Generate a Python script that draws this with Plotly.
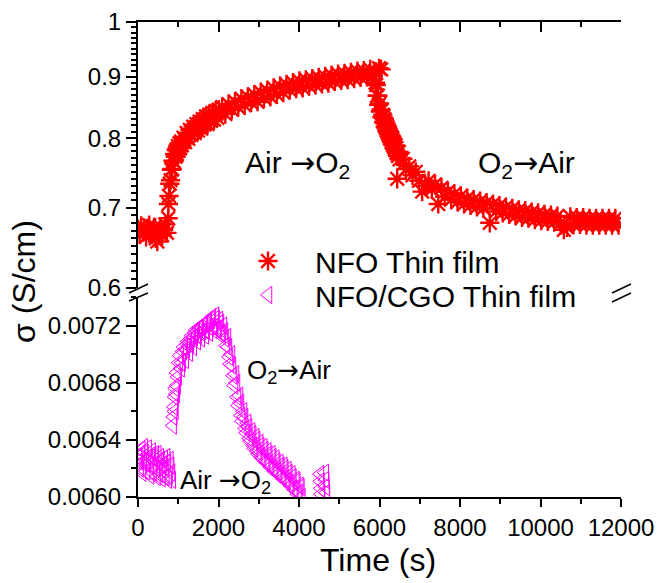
import math
import plotly.graph_objects as go

# ---------------- data: NFO thin film (top panel) ----------------
nfo_t = [0, 40, 80, 120, 160, 200, 240, 280, 320, 360, 400, 440, 480, 520, 560, 600, 640, 680, 720,
         750, 755,
         770, 790, 810, 830, 850, 870, 890, 910, 930, 950, 970, 990, 1010, 1030, 1050, 1070, 1090,
         1130, 1170, 1210, 1250, 1290, 1330, 1370, 1410, 1450, 1490, 1530, 1570, 1610, 1650, 1690,
         1730, 1770, 1810, 1850, 1890, 1930, 1970, 2010,
         2090, 2170, 2250, 2330, 2410, 2490, 2570, 2650, 2730, 2810, 2890, 2970, 3050, 3130, 3210,
         3290, 3370, 3450, 3530, 3610, 3690, 3770, 3850, 3930, 4010, 4090, 4170, 4250, 4330, 4410,
         4490, 4570, 4650, 4730, 4810, 4890, 4970, 5050, 5130, 5210, 5290, 5370, 5450, 5530, 5610,
         5690, 5770, 5850,
         5990, 6040,
         5880, 5900, 5920, 5940, 5960, 5980, 6000, 6020, 6040, 6060, 6080, 6100, 6120, 6140, 6160,
         6180, 6200, 6220, 6240, 6260, 6280, 6300, 6320, 6340, 6360, 6380, 6400, 6420, 6440, 6460,
         6480, 6500,
         6580, 6660, 6740, 6820, 6900, 6980, 7060, 7140, 7220, 7300, 7380, 7460, 7540, 7620, 7700,
         7780, 7860, 7940, 8020, 8100, 8180, 8260, 8340, 8420, 8500, 8580, 8660, 8740, 8820, 8900,
         8980, 9060, 9140, 9220, 9300, 9380, 9460, 9540, 9620, 9700, 9780, 9860, 9940, 10020,
         10100, 10180, 10260, 10340, 10420, 10500, 10580, 10660, 10740, 10820, 10900, 10980,
         11060, 11140, 11220, 11300, 11380, 11460, 11540, 11620, 11700, 11780, 11860, 11940]
nfo_sigma = [0.672, 0.665, 0.676, 0.668, 0.673, 0.662, 0.671, 0.677, 0.666, 0.670, 0.674, 0.660,
             0.656, 0.669, 0.675, 0.664, 0.671, 0.678, 0.667,
             0.686, 0.705,
             0.716, 0.733, 0.738, 0.753, 0.754, 0.766, 0.765, 0.776, 0.772, 0.782, 0.776, 0.788,
             0.781, 0.792, 0.785, 0.795, 0.789,
             0.801, 0.794, 0.808, 0.799, 0.813, 0.805, 0.818, 0.808, 0.822, 0.812, 0.826, 0.815,
             0.830, 0.821, 0.834, 0.822, 0.837, 0.827, 0.840, 0.829, 0.843, 0.832, 0.845,
             0.849, 0.838, 0.854, 0.845, 0.858, 0.849, 0.863, 0.852, 0.866, 0.857, 0.870, 0.858,
             0.874, 0.864, 0.877, 0.866, 0.881, 0.870, 0.884, 0.873, 0.887, 0.878, 0.890, 0.880,
             0.893, 0.881, 0.895, 0.884, 0.897, 0.886, 0.899, 0.888, 0.901, 0.889, 0.903, 0.892,
             0.905, 0.894, 0.906, 0.895, 0.908, 0.897, 0.910, 0.899, 0.911, 0.900, 0.913, 0.902,
             0.915, 0.913,
             0.908, 0.890, 0.886, 0.868, 0.868, 0.853, 0.855, 0.842, 0.845, 0.833, 0.837, 0.825,
             0.830, 0.818, 0.823, 0.812, 0.817, 0.806, 0.811, 0.800, 0.805, 0.794, 0.800, 0.789,
             0.794, 0.783, 0.789, 0.778, 0.740, 0.773, 0.779, 0.768,
             0.769, 0.754, 0.758, 0.745, 0.750, 0.737, 0.722, 0.730, 0.737, 0.725, 0.732, 0.705,
             0.727, 0.715, 0.722, 0.711, 0.719, 0.708, 0.716, 0.705, 0.713, 0.703, 0.711, 0.701,
             0.709, 0.699, 0.707, 0.680, 0.705, 0.695, 0.703, 0.693, 0.701, 0.691, 0.699, 0.689,
             0.697, 0.687, 0.696, 0.686, 0.694, 0.684, 0.693, 0.683, 0.691, 0.682, 0.690, 0.681,
             0.689, 0.680, 0.671, 0.674, 0.688, 0.678, 0.687, 0.678, 0.687, 0.677, 0.686, 0.677,
             0.686, 0.677, 0.686, 0.677, 0.686, 0.677, 0.686, 0.677]

# ---------------- data: NFO/CGO thin film (bottom panel) ----------------
cgo_t = [0, 40, 80, 120, 160, 200, 240, 280, 320, 360, 400, 440, 480, 520, 560, 600, 640, 680,
         720, 760, 800, 840,
         20, 60, 100, 140, 180, 220, 260, 300, 340, 380, 420, 460, 500, 540, 580, 620, 660, 700,
         740, 780, 820,
         860, 910, 960, 1010, 1060, 1110, 1160, 1210, 1260, 1310, 1360, 1410, 1460, 1510, 1560,
         1610, 1660, 1710, 1760, 1810, 1860, 1910, 1960, 2010, 2060, 2110, 2160, 2210, 2260, 2310,
         2360, 2410, 2460, 2510, 2560, 2610, 2660, 2710, 2760, 2810, 2860, 2910, 2960, 3010, 3060,
         3110, 3160, 3210, 3260, 3310, 3360, 3410, 3460, 3510, 3560, 3610, 3660, 3710, 3760, 3810,
         3860, 3910, 3960, 4010, 4060,
         875, 890, 905, 925, 940, 955, 985, 1035, 1085, 1135, 1185, 1235, 1285, 1335, 1385, 1435,
         1485, 1535, 1585, 1635, 1685, 1735, 1785, 1835, 1885, 1935, 1985, 2035, 2085, 2135, 2185,
         2235, 2285, 2335, 2385, 2435, 2485, 2535, 2585, 2635, 2685, 2735, 2785, 2835, 2885, 2935,
         2985, 3035, 3085, 3135, 3185, 3235, 3285, 3335, 3385, 3435, 3485, 3535, 3585, 3635, 3685,
         3735, 3785, 3835, 3885, 3935, 3985, 4035,
         4520, 4530, 4540, 4550, 4640, 4650, 4660, 4670]
cgo_sigma = [0.00628, 0.00620, 0.00633, 0.00624, 0.00631, 0.00618, 0.00634, 0.00622, 0.00629,
             0.00617, 0.00627, 0.00620, 0.00630, 0.00616, 0.00626, 0.00619, 0.00627, 0.00614,
             0.00624, 0.00615, 0.00622, 0.00612,
             0.00625, 0.00630, 0.00617, 0.00635, 0.00626, 0.00623, 0.00628, 0.00615, 0.00632,
             0.00621, 0.00630, 0.00614, 0.00624, 0.00628, 0.00613, 0.00623, 0.00621, 0.00628,
             0.00612, 0.00626, 0.00617,
             0.00650, 0.00670, 0.00678, 0.00694, 0.00690, 0.00702, 0.00696, 0.00707, 0.00701,
             0.00711, 0.00705, 0.00715, 0.00709, 0.00718, 0.00711, 0.00720, 0.00713, 0.00722,
             0.00715, 0.00724, 0.00717, 0.00727, 0.00717, 0.00724, 0.00715, 0.00720, 0.00711,
             0.00712, 0.00698, 0.00700, 0.00685, 0.00686, 0.00670, 0.00671, 0.00657, 0.00660,
             0.00648, 0.00652, 0.00641, 0.00646, 0.00636, 0.00642, 0.00632, 0.00638, 0.00628,
             0.00635, 0.00625, 0.00632, 0.00623, 0.00630, 0.00620, 0.00627, 0.00618, 0.00624,
             0.00615, 0.00622, 0.00613, 0.00619, 0.00610, 0.00616, 0.00606, 0.00612, 0.00602,
             0.00608, 0.00600,
             0.00656, 0.00663, 0.00660, 0.00676, 0.00672, 0.00687, 0.00684, 0.00699, 0.00694,
             0.00705, 0.00703, 0.00709, 0.00707, 0.00713, 0.00712, 0.00717, 0.00713, 0.00719,
             0.00716, 0.00721, 0.00716, 0.00723, 0.00719, 0.00726, 0.00719, 0.00725, 0.00718,
             0.00722, 0.00714, 0.00716, 0.00706, 0.00705, 0.00693, 0.00692, 0.00678, 0.00680,
             0.00664, 0.00666, 0.00653, 0.00656, 0.00645, 0.00649, 0.00639, 0.00644, 0.00634,
             0.00640, 0.00630, 0.00636, 0.00627, 0.00633, 0.00624, 0.00630, 0.00621, 0.00628,
             0.00618, 0.00625, 0.00616, 0.00622, 0.00613, 0.00620, 0.00611, 0.00617, 0.00608,
             0.00614, 0.00605, 0.00611, 0.00603, 0.00607,
             0.00616, 0.00611, 0.00606, 0.00602, 0.00617, 0.00612, 0.00607, 0.00603]

labels = ["NFO Thin film", "NFO/CGO Thin film"]
top_ticks = [0.6, 0.7, 0.8, 0.9, 1.0]
top_ticktext = ["0.6", "0.7", "0.8", "0.9", "1"]
bot_ticks = [0.0060, 0.0064, 0.0068, 0.0072]
x_ticks = [0, 2000, 4000, 6000, 8000, 10000, 12000]
x_ticktext = ["0", "2000", "4000", "6000", "8000", "10000", "12000"]

FONT = "Liberation Sans, Arial, sans-serif"
RED = "#FF0000"
MAG = "#FF00FF"
ARROW = '<span style="font-family:DejaVu Sans">→</span>'

fig = go.Figure()
fig.add_trace(go.Scatter(x=nfo_t, y=nfo_sigma, mode="markers", name=labels[0],
                         xaxis="x2", yaxis="y2", legend="legend",
                         marker=dict(symbol="asterisk-open", size=16, color=RED,
                                     line=dict(color=RED, width=2.4))))
fig.add_trace(go.Scatter(x=cgo_t, y=cgo_sigma, mode="markers", name=labels[1],
                         xaxis="x", yaxis="y", legend="legend2",
                         marker=dict(symbol="triangle-left-open", size=15, color=MAG,
                                     line=dict(color=MAG, width=1))))

top_minor = [round(0.6 + 0.01 * i, 2) for i in range(1, 40) if i % 10 != 0]

axis_common = dict(showgrid=False, zeroline=False, showline=True, linecolor="black",
                   linewidth=2, tickcolor="black", tickwidth=1.5, automargin=False)

def px_to_paper(px, py):
    return (px - 138) / 483.0, (497 - py) / 475.0

leg_common = dict(xanchor="left", yanchor="top", bgcolor="rgba(0,0,0,0)",
                  font=dict(size=30, family=FONT, color="black"), itemwidth=84)
lx, ly1 = px_to_paper(221, 235)
_, ly2 = px_to_paper(221, 269)

fig.update_layout(
    width=660, height=583,
    margin=dict(l=138, r=39, t=22, b=86),
    paper_bgcolor="white", plot_bgcolor="white",
    font=dict(family=FONT, size=24, color="black"),
    xaxis=dict(domain=[0, 1], anchor="y", range=[0, 12000], tickvals=x_ticks,
               ticktext=x_ticktext, ticks="outside", ticklen=8,
               minor=dict(dtick=1000, tick0=0, ticks="outside", ticklen=5, tickwidth=1.5,
                          tickcolor="black"),
               tickfont=dict(size=24), **axis_common),
    xaxis2=dict(domain=[0, 1], anchor="y2", side="top", range=[0, 12000], tickvals=x_ticks,
                ticks="inside", ticklen=10, showticklabels=False,
                minor=dict(dtick=1000, tick0=0, ticks="inside", ticklen=5, tickwidth=1.5,
                           tickcolor="black"),
                **axis_common),
    yaxis=dict(domain=[0, 0.421], anchor="x", range=[0.0060, 0.0074], tickvals=bot_ticks,
               tickformat=".4f", ticks="outside", ticklen=10,
               minor=dict(dtick=0.0002, tick0=0.006, ticks="outside", ticklen=5, tickwidth=1.5,
                          tickcolor="black"),
               tickfont=dict(size=24), **axis_common),
    yaxis3=dict(overlaying="y", anchor="x", side="right", range=[0.0060, 0.0074],
                tickvals=bot_ticks, showticklabels=False, ticks="inside", ticklen=10,
                minor=dict(dtick=0.0002, tick0=0.006, ticks="inside", ticklen=5, tickwidth=1.5,
                           tickcolor="black"),
                **axis_common),
    yaxis2=dict(domain=[0.44, 1], anchor="x2", type="log",
                range=[math.log10(0.6), 0], tickvals=top_ticks, ticktext=top_ticktext,
                ticks="outside", ticklen=10,
                minor=dict(tickvals=top_minor, ticks="outside", ticklen=5, tickwidth=1.5,
                           tickcolor="black"),
                tickfont=dict(size=24), **axis_common),
    yaxis4=dict(overlaying="y2", anchor="x2", side="right", type="log",
                range=[math.log10(0.6), 0], tickvals=top_ticks, showticklabels=False,
                ticks="inside", ticklen=10,
                minor=dict(tickvals=top_minor, ticks="inside", ticklen=5, tickwidth=1.5,
                           tickcolor="black"),
                **axis_common),
    showlegend=True,
    legend=dict(x=lx, y=ly1, **leg_common),
    legend2=dict(x=lx, y=ly2, **leg_common),
)

ann = []
x, y = px_to_paper(378, 560)
ann.append(dict(text="Time (s)", x=x, y=y, font=dict(size=32)))
x, y = px_to_paper(24, 282)
ann.append(dict(text="σ (S/cm)", x=x, y=y, textangle=-90, font=dict(size=32)))
x, y = px_to_paper(297, 164)
ann.append(dict(text="Air " + ARROW + "O<sub>2</sub>", x=x, y=y, font=dict(size=30)))
x, y = px_to_paper(526, 164)
ann.append(dict(text="O<sub>2</sub>" + ARROW + "Air", x=x, y=y, font=dict(size=30)))
x, y = px_to_paper(289, 371)
ann.append(dict(text="O<sub>2</sub>" + ARROW + "Air", x=x, y=y, font=dict(size=26)))
x, y = px_to_paper(225, 481)
ann.append(dict(text="Air " + ARROW + "O<sub>2</sub>", x=x, y=y, font=dict(size=26)))
for a in ann:
    a.update(xref="paper", yref="paper", showarrow=False, xanchor="center", yanchor="middle")
    a["font"].update(family=FONT, color="black")
fig.update_layout(annotations=ann)

shapes = []
for (x0, y0, x1, y1) in [(129, 293, 148, 284), (129, 301, 148, 293),
                         (612, 293, 631, 284), (612, 302, 631, 293)]:
    a0, b0 = px_to_paper(x0, y0)
    a1, b1 = px_to_paper(x1, y1)
    shapes.append(dict(type="line", xref="paper", yref="paper", x0=a0, y0=b0, x1=a1, y1=b1,
                       line=dict(color="black", width=1.5)))
fig.update_layout(shapes=shapes)

fig.write_html("out.html")
